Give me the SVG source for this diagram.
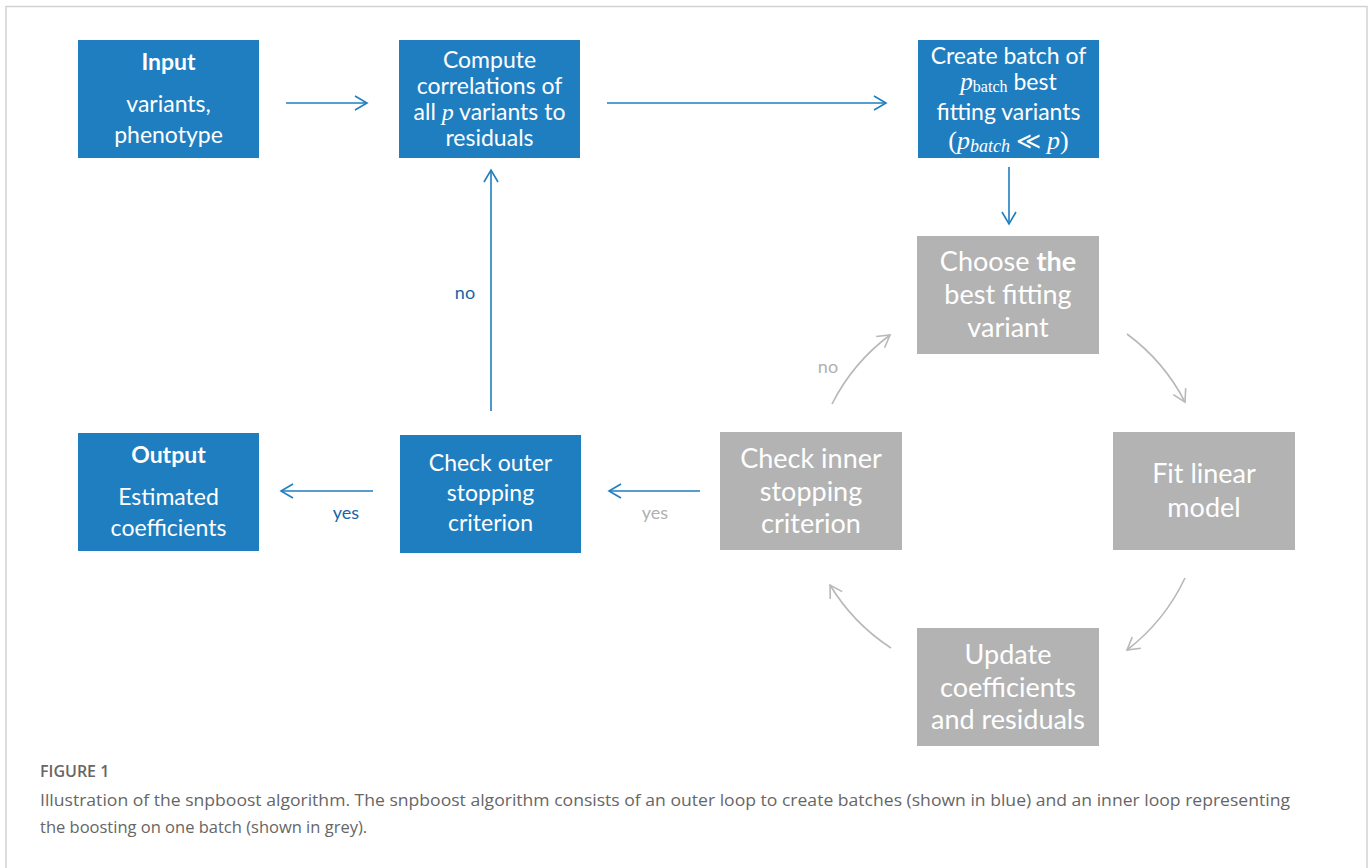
<svg xmlns="http://www.w3.org/2000/svg" width="1370" height="868" viewBox="0 0 1370 868">
<style>
.blue{fill:#1f7ec0}
.grey{fill:#b3b3b3}
.t{font-family:Lato,"Open Sans",sans-serif;fill:#fff;text-anchor:middle}
.tb{font-size:23px}
.tg{font-size:27px}
.b{font-weight:bold}
.m{font-family:"Liberation Serif","DejaVu Serif",serif;font-style:italic}
.mu{font-family:"Liberation Serif","DejaVu Serif",serif;font-style:normal}
.cb{fill:none;stroke:#1f7ec0;stroke-width:1.6}
.cg{fill:none;stroke:#b8b8b8;stroke-width:1.6}
.lb{font-family:Lato,"Open Sans",sans-serif;font-size:18px;fill:#1565a8;text-anchor:middle}
.lg{font-family:Lato,"Open Sans",sans-serif;font-size:18px;fill:#b0b0b0;text-anchor:middle}
.cap{font-family:"Open Sans",Lato,sans-serif;fill:#666}
</style>
<defs>
<marker id="ab" markerUnits="userSpaceOnUse" markerWidth="16" markerHeight="18" refX="13" refY="8" orient="auto">
<path d="M1,1 L13,8 L1,15" fill="none" stroke="#1f7ec0" stroke-width="1.6"/>
</marker>
<marker id="ag" markerUnits="userSpaceOnUse" markerWidth="16" markerHeight="18" refX="13" refY="8" orient="auto">
<path d="M1,1 L13,8 L1,15" fill="none" stroke="#b8b8b8" stroke-width="1.6"/>
</marker>
</defs>
<rect width="1370" height="868" fill="#fff"/>
<path d="M6,868 L6,6.5 L1367,6.5 L1367,868" fill="none" stroke="#d2d2d2" stroke-width="1.5"/>

<g id="connectors">
<line class="cb" x1="286" y1="103" x2="367" y2="103" marker-end="url(#ab)"/>
<line class="cb" x1="607" y1="103" x2="886" y2="103" marker-end="url(#ab)"/>
<line class="cb" x1="1009" y1="167" x2="1009" y2="224" marker-end="url(#ab)"/>
<line class="cb" x1="491" y1="411" x2="491" y2="170" marker-end="url(#ab)"/>
<line class="cb" x1="373" y1="491" x2="281" y2="491" marker-end="url(#ab)"/>
<line class="cb" x1="700" y1="491" x2="609" y2="491" marker-end="url(#ab)"/>
<path class="cg" d="M1127,334 A197,197 0 0 1 1185,402" marker-end="url(#ag)"/>
<path class="cg" d="M1185,578 A197,197 0 0 1 1127,650" marker-end="url(#ag)"/>
<path class="cg" d="M891,648 A197,197 0 0 1 830,585" marker-end="url(#ag)"/>
<path class="cg" d="M832,404 A197,197 0 0 1 890,335" marker-end="url(#ag)"/>
<text class="lb" x="465" y="299">no</text>
<text class="lb" x="346" y="519">yes</text>
<text class="lg" x="655" y="519">yes</text>
<text class="lg" x="828" y="373">no</text>
</g>

<g id="input">
<rect class="blue" x="78" y="40" width="181" height="118"/>
<text class="t tb" x="168.5" y="70"><tspan class="b">Input</tspan><tspan x="168.5" y="112">variants,</tspan><tspan x="168.5" y="143">phenotype</tspan></text>
</g>
<g id="compute">
<rect class="blue" x="399" y="40" width="181" height="118"/>
<text class="t tb" x="489.5" y="68">Compute</text>
<text class="t tb" x="489.5" y="94">correlations of</text>
<text class="t tb" x="489.5" y="120">all <tspan class="m" font-size="24">p</tspan> variants to</text>
<text class="t tb" x="489.5" y="146">residuals</text>
</g>
<g id="batch">
<rect class="blue" x="918" y="40" width="181" height="118"/>
<text class="t tb" x="1008.5" y="64">Create batch of</text>
<text class="t tb" x="1008.5" y="90"><tspan class="m" font-size="25">p</tspan><tspan class="mu" font-size="16" dy="2">batch</tspan><tspan dy="-2"> best</tspan></text>
<text class="t tb" x="1008.5" y="120">fitting variants</text>
<text class="t tb" x="1008.5" y="149"><tspan class="mu" font-size="26">(</tspan><tspan class="m" font-size="26">p</tspan><tspan class="m" font-size="18" dy="3">batch</tspan><tspan class="mu" font-size="24" dy="-3"> ≪ </tspan><tspan class="m" font-size="26">p</tspan><tspan class="mu" font-size="26">)</tspan></text>
</g>
<g id="choose">
<rect class="grey" x="917" y="236" width="182" height="118"/>
<text class="t tg" x="1008" y="271">Choose <tspan class="b">the</tspan><tspan x="1008" y="304">best fitting</tspan><tspan x="1008" y="337">variant</tspan></text>
</g>
<g id="fit">
<rect class="grey" x="1113" y="432" width="182" height="118"/>
<text class="t tg" x="1204" y="483">Fit linear<tspan x="1204" y="517">model</tspan></text>
</g>
<g id="update">
<rect class="grey" x="917" y="628" width="182" height="118"/>
<text class="t tg" x="1008" y="664">Update<tspan x="1008" y="697">coefficients</tspan><tspan x="1008" y="729">and residuals</tspan></text>
</g>
<g id="inner">
<rect class="grey" x="720" y="432" width="182" height="118"/>
<text class="t tg" x="811" y="468">Check inner<tspan x="811" y="501">stopping</tspan><tspan x="811" y="533">criterion</tspan></text>
</g>
<g id="outer">
<rect class="blue" x="400" y="435" width="181" height="118"/>
<text class="t tb" x="490.5" y="471">Check outer<tspan x="490.5" y="501">stopping</tspan><tspan x="490.5" y="531">criterion</tspan></text>
</g>
<g id="output">
<rect class="blue" x="78" y="433" width="181" height="118"/>
<text class="t tb" x="168.5" y="463"><tspan class="b">Output</tspan><tspan x="168.5" y="505">Estimated</tspan><tspan x="168.5" y="536">coefficients</tspan></text>
</g>

<g id="caption">
<text class="cap" x="40" y="777" font-size="16" font-weight="600" fill="#555">FIGURE 1</text>
<text class="cap" x="40" y="806" font-size="16.5" textLength="1250" lengthAdjust="spacingAndGlyphs">Illustration of the snpboost algorithm. The snpboost algorithm consists of an outer loop to create batches (shown in blue) and an inner loop representing</text>
<text class="cap" x="40" y="833" font-size="16.5">the boosting on one batch (shown in grey).</text>
</g>
</svg>
